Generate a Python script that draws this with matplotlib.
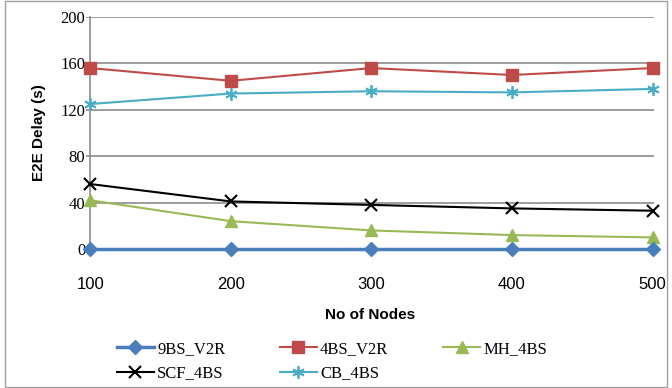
import matplotlib
matplotlib.use("Agg")
import matplotlib.pyplot as plt
from matplotlib.patches import Rectangle

nodes = [100, 200, 300, 400, 500]
bs9_v2r = [0, 0, 0, 0, 0]
bs4_v2r = [156, 145, 156, 150, 156]
mh_4bs = [42, 24, 16, 12, 10]
scf_4bs = [56, 41, 38, 35, 33]
cb_4bs = [125, 134, 136, 135, 138]
yticks = [0, 40, 80, 120, 160, 200]

fig = plt.figure(figsize=(6.72, 3.88), dpi=100)
ax = fig.add_axes([86/672, 1-249/388, (654-86)/672, (249-17)/388])

serif = ['Liberation Serif', 'DejaVu Serif']
sans = ['Liberation Sans', 'DejaVu Sans']

h1, = ax.plot(nodes, bs9_v2r, color='#4a7ebb', marker='D', ms=7, lw=2.5, label='9BS_V2R', zorder=6, clip_on=False)
h2, = ax.plot(nodes, bs4_v2r, color='#be4b48', marker='s', ms=9, lw=1.5, label='4BS_V2R', zorder=5, clip_on=False)
h3, = ax.plot(nodes, mh_4bs, color='#98b954', marker='^', ms=9, lw=1.5, label='MH_4BS', zorder=5, clip_on=False)
h4, = ax.plot(nodes, scf_4bs, color='black', marker='x', ms=8, mew=1.5, lw=1.5, label='SCF_4BS', zorder=5, clip_on=False)
h5, = ax.plot(nodes, cb_4bs, color='#4bacc6', marker=(6, 2, 0), ms=9, mew=1.3, lw=1.5, label='CB_4BS', zorder=5, clip_on=False)

ax.set_xlim(97, 501)
ax.set_ylim(0, 200)
ax.set_yticks(yticks)
ax.set_xticks(nodes)
ax.yaxis.grid(True, color='#8c8c8c', lw=1.2)
ax.set_axisbelow(True)
for s in ['top', 'right', 'bottom']:
    ax.spines[s].set_visible(False)
ax.spines['left'].set_color('#8c8c8c')
ax.spines['left'].set_linewidth(1.2)
ax.spines['left'].set_position(('data', 100))
ax.tick_params(axis='both', length=0)
ax.tick_params(axis='x', pad=20)
for t in ax.get_yticklabels():
    t.set_family(serif); t.set_fontsize(12)
for t in ax.get_xticklabels():
    t.set_family(sans); t.set_fontsize(12)
ax.set_ylabel('E2E Delay (s)', fontsize=11, fontweight='bold', family=sans, labelpad=10)
ax.set_xlabel('No of Nodes', fontsize=11, fontweight='bold', family=sans, labelpad=12)

handles = [h1, h4, h2, h5, h3]
leg = fig.legend(handles=handles, labels=[h.get_label() for h in handles],
                 loc='upper left', bbox_to_anchor=(112/672, 1-336/388), ncol=3, frameon=False,
                 prop={'family': serif, 'size': 12}, handlelength=2.2, columnspacing=3.3,
                 labelspacing=0.5, handletextpad=0.2, borderaxespad=0, borderpad=0.3)

fig.patches.append(Rectangle((0.008, 0.003), 0.984, 0.994, transform=fig.transFigure,
                             fill=False, edgecolor='#a0a0a0', lw=1))
fig.savefig('out.png', dpi=100)
